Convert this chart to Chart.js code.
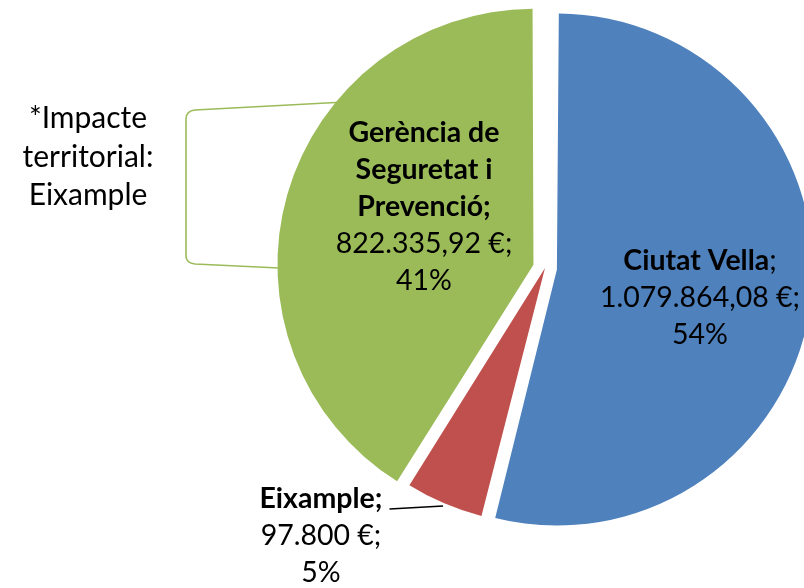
<!DOCTYPE html>
<html>
<head>
<meta charset="utf-8">
<title>Repartiment per districte</title>
<script src="https://cdn.jsdelivr.net/npm/chart.js@4.4.1/dist/chart.umd.min.js"></script>
<style>
  html, body { margin: 0; padding: 0; background: #fff; overflow: hidden; }
  /* the pie runs off the right edge in the original, so the canvas is wider than the page */
  #wrap { position: absolute; left: 0; top: 0; width: 1090px; height: 588px; }
</style>
</head>
<body>
<div id="wrap"><canvas id="pie"></canvas></div>
<script>
// slices, clockwise from 12 o'clock
const districts = ["Ciutat Vella", "Eixample", "Gerència de Seguretat i Prevenció"];
const amounts = [1079864.08, 97800, 822335.92];
const sliceColors = ["#4f81bd", "#c0504d", "#9bbb59"];
const explode = [48, 0, 48]; // chart.js shifts a slice by offset / 4

// how each label name is broken up (rest of label is amount + percent)
const labelLines = [["Ciutat Vella"], ["Eixample"], ["Gerència de", "Seguretat i", "Prevenció"]];
const noteLines = ["*Impacte", "territorial:", "Eixample"];

// label anchors relative to the pie centre (first baseline, centred)
const labelPlace = [
  { dx: 155, dy: 2, boldSemi: false },
  { dx: -224, dy: 240, boldSemi: true, leader: true },
  { dx: -121, dy: -126, boldSemi: true }
];

const FONT = "Lato, 'Open Sans', sans-serif";
const SIZE = 28.5;
const NOTE_SIZE = 30;
const LINE = 37;
const GREEN = "#9bbb59";

function euro(v) {
  const parts = v.toFixed(2).split(".");
  const whole = parts[0].replace(/\B(?=(\d{3})+(?!\d))/g, ".");
  return (parts[1] === "00" ? whole : whole + "," + parts[1]) + " €";
}

// arc.draw() grows a shifted slice's radius; undo it so all slices stay the same size
const evenRadius = {
  id: "evenRadius",
  afterDatasetUpdate(chart, args) {
    args.meta.data.forEach((arc, i) => {
      const fix = 1 - Math.sin(Math.min(Math.PI, arc.circumference));
      arc.outerRadius -= (explode[i] / 4) * fix;
    });
  }
};

// the green "*Impacte territorial" bracket sits behind the pie
const noteBracket = {
  id: "noteBracket",
  beforeDatasetsDraw(chart) {
    const ctx = chart.ctx;
    ctx.save();
    ctx.strokeStyle = GREEN;
    ctx.lineWidth = 1.6;
    ctx.beginPath();
    ctx.moveTo(345, 102);
    ctx.lineTo(195, 110);
    ctx.quadraticCurveTo(186, 111, 186, 119);
    ctx.lineTo(186, 256);
    ctx.quadraticCurveTo(186, 263, 195, 264);
    ctx.lineTo(300, 269);
    ctx.stroke();

    ctx.fillStyle = "#000";
    ctx.font = NOTE_SIZE + "px " + FONT;
    ctx.textAlign = "center";
    ctx.textBaseline = "alphabetic";
    noteLines.forEach((t, k) => ctx.fillText(t, 88, 128 + k * 38.5));
    ctx.restore();
  }
};

function nameLine(ctx, name, boldSemi, cx, y) {
  ctx.font = "bold " + SIZE + "px " + FONT;
  const w1 = ctx.measureText(name).width;
  ctx.font = (boldSemi ? "bold " : "") + SIZE + "px " + FONT;
  const w2 = ctx.measureText(";").width;
  const x0 = cx - (w1 + w2) / 2;
  ctx.textAlign = "left";
  ctx.font = "bold " + SIZE + "px " + FONT;
  ctx.fillText(name, x0, y);
  ctx.font = (boldSemi ? "bold " : "") + SIZE + "px " + FONT;
  ctx.fillText(";", x0 + w1, y);
  ctx.textAlign = "center";
  return x0 + w1 + w2;
}

const sliceLabels = {
  id: "sliceLabels",
  afterDatasetsDraw(chart) {
    const ctx = chart.ctx;
    const meta = chart.getDatasetMeta(0);
    const total = amounts.reduce((a, b) => a + b, 0);
    ctx.save();
    ctx.fillStyle = "#000";
    ctx.textAlign = "center";
    ctx.textBaseline = "alphabetic";
    meta.data.forEach((arc, i) => {
      const p = labelPlace[i];
      const x = arc.x + p.dx;
      const y0 = arc.y + p.dy;
      let y = y0;
      let right = x;
      labelLines[i].forEach((line, k) => {
        if (k === labelLines[i].length - 1) {
          right = nameLine(ctx, line, p.boldSemi, x, y);
        } else {
          ctx.font = "bold " + SIZE + "px " + FONT;
          ctx.fillText(line, x, y);
        }
        y += LINE;
      });
      ctx.font = SIZE + "px " + FONT;
      ctx.fillText(euro(amounts[i]) + ";", x, y);
      y += LINE;
      ctx.fillText(Math.round(amounts[i] / total * 100) + "%", x, y);

      if (p.leader) {
        const mid = (arc.startAngle + arc.endAngle) / 2;
        const r = arc.outerRadius + 3;
        ctx.strokeStyle = "#000";
        ctx.lineWidth = 1.5;
        ctx.beginPath();
        ctx.moveTo(right + 7, y0 + 1);
        ctx.lineTo(arc.x + Math.cos(mid) * r, arc.y + Math.sin(mid) * r);
        ctx.stroke();
      }
    });
    ctx.restore();
  }
};

new Chart(document.getElementById("pie").getContext("2d"), {
  type: "pie",
  data: {
    labels: districts,
    datasets: [{
      data: amounts,
      backgroundColor: sliceColors,
      borderWidth: 0,
      offset: explode
    }]
  },
  options: {
    responsive: true,
    maintainAspectRatio: false,
    animation: false,
    radius: 256,
    layout: { padding: { bottom: 52 } },
    events: [],
    plugins: {
      legend: { display: false },
      tooltip: { enabled: false }
    }
  },
  plugins: [evenRadius, noteBracket, sliceLabels]
});
</script>
</body>
</html>
